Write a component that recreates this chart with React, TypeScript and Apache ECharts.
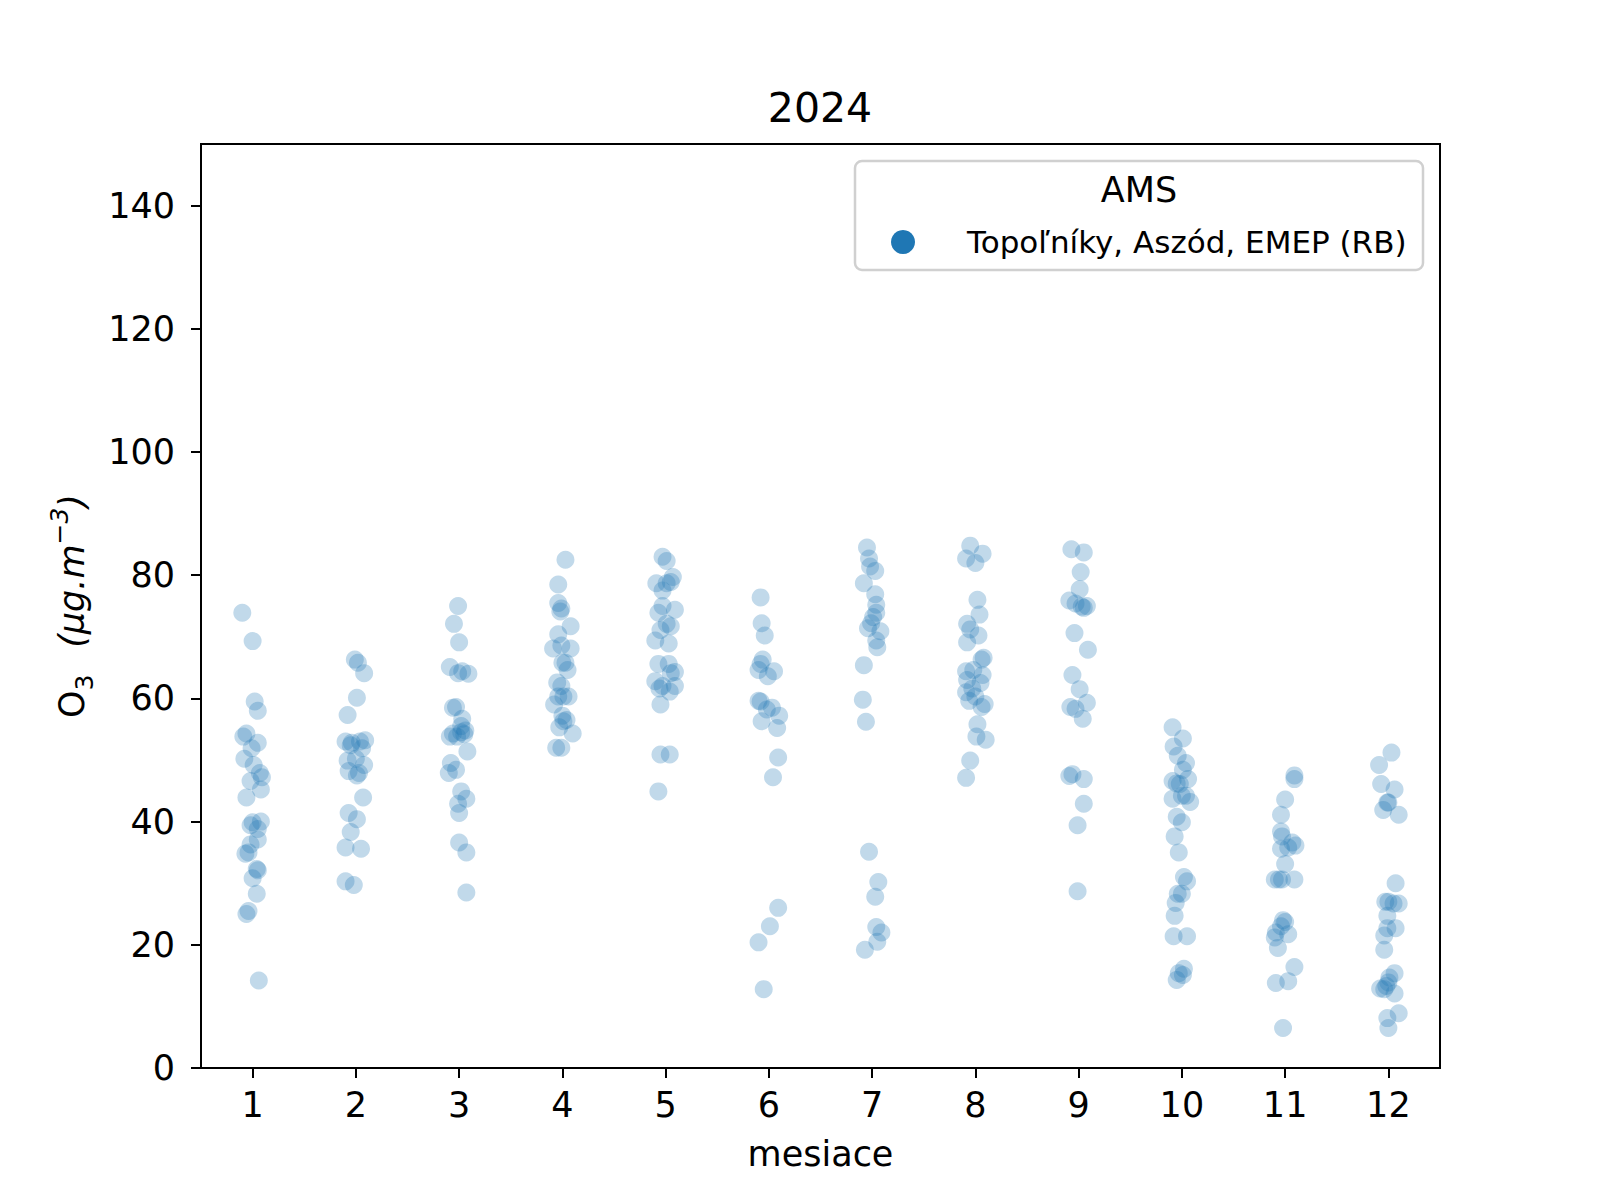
import React, { useEffect, useRef } from "react";
import * as echarts from "echarts";

const months = ["1", "2", "3", "4", "5", "6", "7", "8", "9", "10", "11", "12"];
const yTicks = [0, 20, 40, 60, 80, 100, 120, 140];
const legendTitle = "AMS";
const seriesName = "Topoľníky, Aszód, EMEP (RB)";
const chartTitle = "2024";

// O3 values per month
const valuesByMonth: number[][] = [
  [73.9, 69.3, 59.5, 58.0, 53.8, 54.3, 52.8, 51.9, 50.2, 49.2, 47.9, 47.2, 46.6, 45.2, 43.9, 39.9, 40.0, 39.4, 38.8, 37.1, 36.3, 34.8, 35.0, 32.3, 32.1, 30.8, 28.3, 25.5, 25.0, 14.2],
  [66.3, 65.8, 64.1, 60.1, 57.3, 53.0, 52.8, 52.4, 53.0, 53.2, 51.9, 49.9, 50.2, 49.2, 48.2, 47.9, 47.5, 43.9, 41.4, 40.4, 38.3, 35.8, 35.6, 30.3, 29.7],
  [75.0, 72.1, 69.1, 65.1, 64.1, 64.4, 64.0, 58.6, 58.5, 56.7, 55.5, 54.3, 54.5, 54.8, 53.8, 54.2, 53.8, 51.4, 49.5, 48.4, 47.9, 44.9, 43.7, 42.9, 41.4, 36.6, 35.0, 28.5],
  [82.5, 78.5, 75.5, 74.6, 74.1, 70.4, 71.7, 68.1, 68.6, 68.1, 65.8, 65.8, 64.6, 62.6, 62.0, 60.3, 60.3, 60.3, 59.0, 57.2, 56.3, 55.3, 54.3, 52.0, 52.0, 56.5],
  [83.0, 82.3, 79.7, 78.9, 78.7, 78.7, 77.5, 74.4, 73.9, 75.0, 72.1, 71.7, 71.1, 69.4, 68.9, 65.6, 65.6, 64.1, 64.3, 62.8, 62.0, 62.0, 61.6, 61.1, 59.0, 50.9, 50.9, 44.9],
  [76.4, 72.2, 70.2, 65.6, 66.3, 64.6, 64.4, 63.6, 59.6, 59.5, 58.5, 58.2, 57.2, 56.3, 55.2, 50.4, 47.2, 26.0, 23.0, 20.4, 12.8],
  [84.5, 82.7, 81.4, 80.7, 78.7, 76.9, 75.2, 73.9, 73.2, 72.2, 71.4, 70.9, 69.4, 68.3, 65.4, 59.8, 56.2, 35.1, 30.2, 27.8, 22.9, 22.0, 20.5, 19.2],
  [84.8, 82.7, 83.5, 82.0, 76.0, 73.6, 72.1, 71.2, 70.2, 69.1, 66.6, 66.3, 64.4, 64.6, 63.8, 63.0, 62.5, 61.6, 61.0, 60.3, 59.6, 59.1, 58.6, 55.8, 53.8, 53.3, 49.9, 47.1],
  [84.2, 83.7, 80.5, 77.7, 75.9, 75.4, 74.9, 74.7, 75.0, 70.6, 67.9, 63.8, 61.5, 58.6, 58.3, 59.3, 56.7, 47.4, 47.7, 46.9, 42.9, 39.4, 28.7],
  [55.3, 53.5, 52.2, 50.7, 49.5, 48.4, 46.6, 46.2, 46.1, 46.9, 43.7, 44.2, 44.2, 43.2, 40.8, 39.9, 37.6, 35.0, 31.0, 30.3, 28.3, 28.3, 26.8, 24.7, 21.4, 21.4, 16.1, 15.4, 15.1, 14.3],
  [47.5, 46.9, 43.6, 41.1, 38.4, 37.6, 36.6, 35.8, 36.1, 35.6, 33.1, 30.6, 30.6, 30.6, 30.6, 24.0, 23.7, 23.0, 22.0, 21.2, 21.7, 19.5, 16.4, 14.1, 13.8, 6.5],
  [51.2, 49.2, 46.1, 45.2, 41.9, 43.1, 41.1, 43.1, 30.0, 27.0, 27.0, 26.7, 26.7, 24.7, 22.7, 22.7, 21.5, 19.2, 15.4, 14.7, 13.9, 13.3, 12.9, 12.8, 12.1, 8.9, 8.1, 6.5],
];

// horizontal jitter of each point, in category units
const offsetsByMonth: number[][] = [
  [-0.10, 0.00, 0.02, 0.05, -0.09, -0.06, 0.05, -0.01, -0.08, 0.01, 0.07, 0.09, -0.02, 0.08, -0.06, 0.00, 0.08, -0.02, 0.05, 0.05, -0.02, -0.07, -0.04, 0.04, 0.05, 0.00, 0.04, -0.04, -0.06, 0.06],
  [-0.01, 0.02, 0.08, 0.01, -0.08, -0.10, -0.04, -0.05, 0.04, 0.09, 0.06, -0.08, 0.00, 0.08, -0.07, 0.03, 0.01, 0.07, -0.07, 0.01, -0.05, -0.10, 0.05, -0.10, -0.02],
  [-0.01, -0.05, 0.00, -0.09, -0.01, 0.03, 0.09, -0.03, -0.06, 0.03, 0.02, -0.06, 0.02, 0.06, -0.02, 0.05, -0.09, 0.08, -0.08, -0.03, -0.10, 0.02, 0.07, -0.01, 0.00, 0.00, 0.07, 0.07],
  [0.03, -0.04, -0.04, -0.01, -0.02, -0.04, 0.08, -0.09, -0.01, 0.08, 0.00, 0.03, 0.05, -0.05, -0.01, -0.04, 0.01, 0.06, -0.08, 0.00, 0.01, -0.03, 0.10, -0.06, -0.01, 0.04],
  [-0.03, 0.01, 0.07, 0.05, 0.01, -0.09, -0.03, 0.09, -0.07, -0.03, 0.01, 0.05, -0.05, -0.10, 0.03, -0.07, 0.03, 0.05, 0.09, -0.10, -0.03, 0.09, -0.06, 0.04, -0.05, -0.05, 0.04, -0.07],
  [-0.08, -0.07, -0.04, -0.08, -0.06, -0.10, 0.05, -0.01, -0.10, -0.08, 0.03, -0.02, 0.10, -0.07, 0.08, 0.09, 0.04, 0.09, 0.01, -0.10, -0.05],
  [-0.05, -0.03, -0.02, 0.03, -0.08, 0.03, 0.04, 0.04, 0.01, -0.01, -0.04, 0.08, 0.04, 0.05, -0.08, -0.09, -0.06, -0.03, 0.06, 0.03, 0.04, 0.09, 0.05, -0.07],
  [-0.05, -0.09, 0.07, 0.00, 0.02, 0.04, -0.08, -0.05, 0.03, -0.08, 0.08, 0.06, -0.09, -0.02, 0.07, -0.08, 0.05, -0.03, -0.09, 0.00, -0.06, 0.09, 0.06, 0.02, 0.01, 0.10, -0.05, -0.09],
  [-0.07, 0.05, 0.02, 0.01, -0.09, -0.03, 0.03, 0.05, 0.08, -0.04, 0.09, -0.06, 0.01, -0.08, -0.03, 0.08, 0.04, -0.09, -0.06, 0.05, 0.05, -0.01, -0.01],
  [-0.09, 0.01, -0.08, -0.04, 0.04, 0.01, -0.09, -0.05, -0.02, 0.06, -0.09, 0.00, 0.04, 0.08, -0.05, 0.00, -0.07, -0.03, 0.02, 0.05, -0.04, 0.00, -0.06, -0.07, -0.08, 0.05, 0.02, -0.03, 0.01, -0.05],
  [0.09, 0.09, 0.00, -0.04, -0.04, -0.03, 0.07, 0.03, 0.10, -0.04, 0.00, -0.10, -0.06, -0.03, 0.09, -0.02, 0.00, -0.04, -0.09, -0.10, 0.03, -0.07, 0.09, 0.03, -0.09, -0.02],
  [0.03, -0.09, -0.07, 0.06, -0.05, 0.00, 0.10, -0.01, 0.07, -0.03, 0.00, 0.05, 0.10, -0.01, -0.01, 0.07, -0.04, -0.04, 0.06, 0.01, 0.00, -0.02, -0.08, -0.04, 0.06, 0.10, -0.01, 0.00],
];

const FONT = "DejaVu Sans";

export default function App() {
  const ref = useRef<HTMLDivElement>(null);
  useEffect(() => {
    if (!ref.current) return;
    const chart = echarts.init(ref.current, undefined, { renderer: "svg" });
    const points: number[][] = [];
    valuesByMonth.forEach((vals, i) => {
      vals.forEach((v, j) => {
        points.push([Number(months[i]) + offsetsByMonth[i][j], v]);
      });
    });
    chart.setOption({
      animation: false,
      backgroundColor: "#ffffff",
      textStyle: { fontFamily: FONT },
      grid: {
        left: 201,
        right: 160,
        top: 144,
        bottom: 132,
        show: true,
        borderColor: "#000",
        borderWidth: 2,
        backgroundColor: "transparent",
      },
      xAxis: [
        {
          type: "category",
          data: months,
          boundaryGap: true,
          name: "mesiace",
          nameLocation: "middle",
          nameGap: 68,
          nameTextStyle: { fontSize: 35, color: "#000", fontFamily: FONT },
          axisLine: { show: true, lineStyle: { color: "#000", width: 2 } },
          axisTick: { show: true, alignWithLabel: true, length: 10, lineStyle: { color: "#000", width: 2 } },
          axisLabel: { fontSize: 35, color: "#000", margin: 19, fontFamily: FONT },
          splitLine: { show: false },
        },
        {
          type: "value",
          min: 0.5,
          max: 12.5,
          show: false,
        },
      ],
      yAxis: {
        type: "value",
        min: 0,
        max: 150,
        interval: 20,
        name: "{a|O}{sub|3}       {b|(μg.m}{sup|−3}{b|)}",
        nameLocation: "middle",
        nameGap: 100,
        nameTextStyle: {
          color: "#000",
          fontFamily: FONT,
          rich: {
            a: { fontSize: 35, fontFamily: FONT, color: "#000", verticalAlign: "middle", lineHeight: 50 },
            sub: { fontSize: 25, fontFamily: FONT, color: "#000", verticalAlign: "bottom", lineHeight: 50 },
            b: { fontSize: 35, fontFamily: FONT, fontStyle: "italic", color: "#000", verticalAlign: "middle", lineHeight: 50 },
            sup: { fontSize: 25, fontFamily: FONT, fontStyle: "italic", color: "#000", verticalAlign: "top", lineHeight: 50 },
          },
        },
        axisLine: { show: true, lineStyle: { color: "#000", width: 2 } },
        axisTick: { show: true, length: 10, lineStyle: { color: "#000", width: 2 }, customValues: yTicks },
        axisLabel: {
          fontSize: 35,
          color: "#000",
          margin: 26,
          fontFamily: FONT,
          customValues: yTicks,
          formatter: (v: number) => (v > 140 ? "" : String(v)),
        },
        splitLine: { show: false },
      },
      series: [
        {
          type: "scatter",
          name: seriesName,
          xAxisIndex: 1,
          data: points,
          symbol: "circle",
          symbolSize: 18,
          itemStyle: { color: "#1f77b4", opacity: 0.28 },
          emphasis: { disabled: true },
        },
      ],
      graphic: [
        {
          type: "text",
          x: 820,
          y: 108,
          style: {
            text: chartTitle,
            fontSize: 41,
            fontFamily: FONT,
            fill: "#000",
            align: "center",
            verticalAlign: "middle",
            textAlign: "center",
            textVerticalAlign: "middle",
          },
        },
        {
          type: "rect",
          shape: { x: 855, y: 161, width: 568, height: 109, r: 7 },
          style: { fill: "rgba(255,255,255,0.8)", stroke: "#d0d0d0", lineWidth: 2.5 },
          z: 10,
        },
        {
          type: "text",
          x: 1139,
          y: 190,
          z: 11,
          style: {
            text: legendTitle,
            fontSize: 35,
            fontFamily: FONT,
            fill: "#000",
            align: "center",
            verticalAlign: "middle",
            textAlign: "center",
            textVerticalAlign: "middle",
          },
        },
        {
          type: "circle",
          shape: { cx: 903, cy: 242, r: 12 },
          style: { fill: "#1f77b4" },
          z: 11,
        },
        {
          type: "text",
          x: 967,
          y: 242,
          z: 11,
          style: {
            text: seriesName,
            fontSize: 31,
            fontFamily: FONT,
            fill: "#000",
            align: "left",
            verticalAlign: "middle",
            textAlign: "left",
            textVerticalAlign: "middle",
          },
        },
      ],
    });
    return () => chart.dispose();
  }, []);
  return (
    <div
      ref={ref}
      style={{ position: "absolute", left: 0, top: 0, width: 1600, height: 1200, background: "#fff" }}
    />
  );
}
